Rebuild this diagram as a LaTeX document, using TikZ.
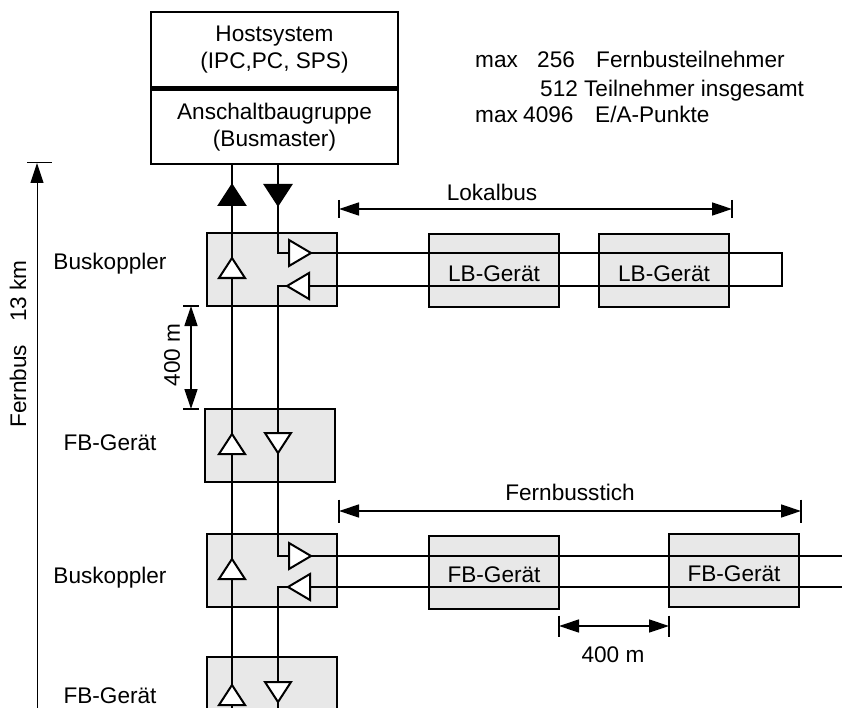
\documentclass[tikz,border=0pt]{standalone}
\usepackage{fontspec}
\setmainfont{Liberation Sans}
\usetikzlibrary{arrows.meta,positioning}

\begin{document}
\begin{tikzpicture}[
  x=1pt, y=-1pt,
  font=\fontsize{22.6}{27}\selectfont,
  hbox/.style={draw, line width=2pt, minimum width=247pt, minimum height=75pt, align=center, inner sep=0pt},
  gbox/.style={draw, line width=2pt, fill=gray!18, minimum width=130pt, minimum height=73pt, inner sep=0pt,
    text height=21pt, text depth=0pt},
  bus/.style={line width=2pt},
  amp/.style={draw, line width=2pt, fill=white, line join=miter},
  ampfill/.style={},
  solid amp/.style={ampfill/.style={fill=black}},
  dim/.style={line width=1.4pt, {Triangle[length=20pt,width=13pt]}-{Triangle[length=20pt,width=13pt]}},
  dimtick/.style={line width=1.4pt},
  txt/.style={inner sep=0pt, anchor=base west},
  ampup/.pic={\path[amp, ampfill] (-13,10) -- (0,-10) -- (13,10) -- cycle;
    \coordinate (-in) at (0,10); \coordinate (-out) at (0,-10);},
  ampdown/.pic={\path[amp, ampfill] (-13,-10) -- (0,10) -- (13,-10) -- cycle;
    \coordinate (-in) at (0,-10); \coordinate (-out) at (0,10);},
  ampright/.pic={\path[amp, ampfill] (-11,-13) -- (11,0) -- (-11,13) -- cycle;
    \coordinate (-in) at (-11,0); \coordinate (-out) at (11,0);},
  ampleft/.pic={\path[amp, ampfill] (11,-13) -- (-11,0) -- (11,13) -- cycle;
    \coordinate (-in) at (11,0); \coordinate (-out) at (-11,0);},
]
\clip (0,0) rectangle (842,708);

% Hostsystem with Anschaltbaugruppe
\node[hbox] (hostsys) at (274.5,50) {Hostsystem\\(IPC,PC, SPS)};
\node[hbox, below=0pt of hostsys] (master) {Anschaltbaugruppe\\(Busmaster)};
\draw[line width=5pt] (master.north west) -- (master.north east);

% Limits
\node[txt] (mx1) at (475,68) {max};
\node[txt] (nr1) at (537,68) {256};
\node[txt] (tn1) at (596,68) {Fernbusteilnehmer};
\node[txt] (tn2) at (540,97) {512 Teilnehmer insgesamt};
\node[txt] (mx3) at (475,123) {max};
\node[txt] (nr3) at (523,123) {4096};
\node[txt] (tn3) at (595,123) {E/A-Punkte};

% Bus lines and edges
\coordinate (xl) at (232,0);
\coordinate (xr) at (278,0);
\coordinate (bot) at (0,712);
\coordinate (edge) at (850,0);
\coordinate (lbend) at (782,0);

% Devices on the Fernbus
\node[gbox] (bkA) at (272,269.5) {};
\node[gbox] (fbA) at (270,445) {};
\node[gbox] (bkB) at (272,570) {};
\node[gbox] (fbB) at (271.5,693) {};

% Lokalbus devices
\node[gbox] (lbA) at (494,270.5) {LB-Gerät};
\node[gbox] (lbB) at (664,270.5) {LB-Gerät};

% Fernbusstich devices
\node[gbox] (fsA) at (494,572) {FB-Gerät};
\node[gbox] (fsB) at (734,570.5) {FB-Gerät};

% Amplifiers
\pic[solid amp] (h1) at (232,195) {ampup};
\pic[solid amp] (h2) at (278,195) {ampdown};
\pic (u1) at (232,268) {ampup};
\pic (u2) at (232,444) {ampup};
\pic (u3) at (232,569) {ampup};
\pic (u4) at (232,695) {ampup};
\pic (d1) at (278,443) {ampdown};
\pic (d2) at (278,692) {ampdown};
\pic (o1) at (300,253) {ampright};
\pic (i1) at (298,286) {ampleft};
\pic (o2) at (300,556) {ampright};
\pic (i2) at (299,587) {ampleft};

% Upward line
\draw[bus] (bot -| xl) -- (u4-in);
\foreach \a/\b in {u4/u3, u3/u2, u2/u1, u1/h1}
  \draw[bus] (\a-out) -- (\b-in);
\draw[bus] (h1-out) -- (master.south -| xl);

% Downward line with Lokalbus and Fernbusstich
\draw[bus] (master.south -| xr) -- (h2-in);
\draw[bus] (h2-out) |- (o1-in);
\draw[bus] (o1-out) -- (lbend |- o1-out) |- (i1-in);
\draw[bus] (i1-out) -| (d1-in);
\draw[bus] (d1-out) |- (o2-in);
\draw[bus] (o2-out) -- (edge |- o2-out);
\draw[bus] (edge |- i2-in) -- (i2-in);
\draw[bus] (i2-out) -| (d2-in);
\draw[bus] (d2-out) -- (bot -| xr);

% Device labels
\node (lbl1) at (110,264) {Buskoppler};
\node (lbl2) at (110,443) {FB-Gerät};
\node (lbl3) at (110,578) {Buskoppler};
\node (lbl4) at (110,696) {FB-Gerät};

% Lokalbus dimension
\coordinate (lbL) at (339,209);
\coordinate (lbR) at (732,209);
\draw[dim] (lbL) -- (lbR);
\foreach \c in {lbL, lbR}
  \draw[dimtick] ([yshift=9pt]\c) -- ([yshift=-9pt]\c);
\node (lbtxt) at (492,192) {Lokalbus};

% Fernbusstich dimension
\coordinate (fsL) at (339,511);
\coordinate (fsR) at (801,511);
\draw[dim] (fsL) -- (fsR);
\foreach \c in {fsL, fsR}
  \draw[dimtick] ([yshift=11.5pt]\c) -- ([yshift=-11.5pt]\c);
\node (fstxt) at (570,492) {Fernbusstich};

% 400 m between Fernbusstich devices
\coordinate (hL) at (559,626);
\coordinate (hR) at (669,626);
\draw[dim] (hL) -- (hR);
\foreach \c in {hL, hR}
  \draw[dimtick] ([yshift=10.5pt]\c) -- ([yshift=-10.5pt]\c);
\node (htxt) at (613,655) {400 m};

% 400 m between Buskoppler and FB-Geraet
\coordinate (vT) at (191,306);
\coordinate (vB) at (191,409);
\draw[dim] (vT) -- (vB);
\foreach \c in {vT, vB}
  \draw[dimtick] ([xshift=-8pt]\c) -- ([xshift=8pt]\c);
\node[rotate=90] (vtxt) at (172,355) {400 m};

% Fernbus length
\coordinate (fbTop) at (37,163);
\draw[line width=1pt, -{Triangle[length=20pt,width=13pt]}] (fbTop |- bot) -- (fbTop);
\draw[line width=1pt] ([xshift=-10pt]fbTop) -- ([xshift=15pt]fbTop);
\node[rotate=90] (fbtxt) at (18,344) {Fernbus\hspace{23pt}13 km};

\end{tikzpicture}
\end{document}
